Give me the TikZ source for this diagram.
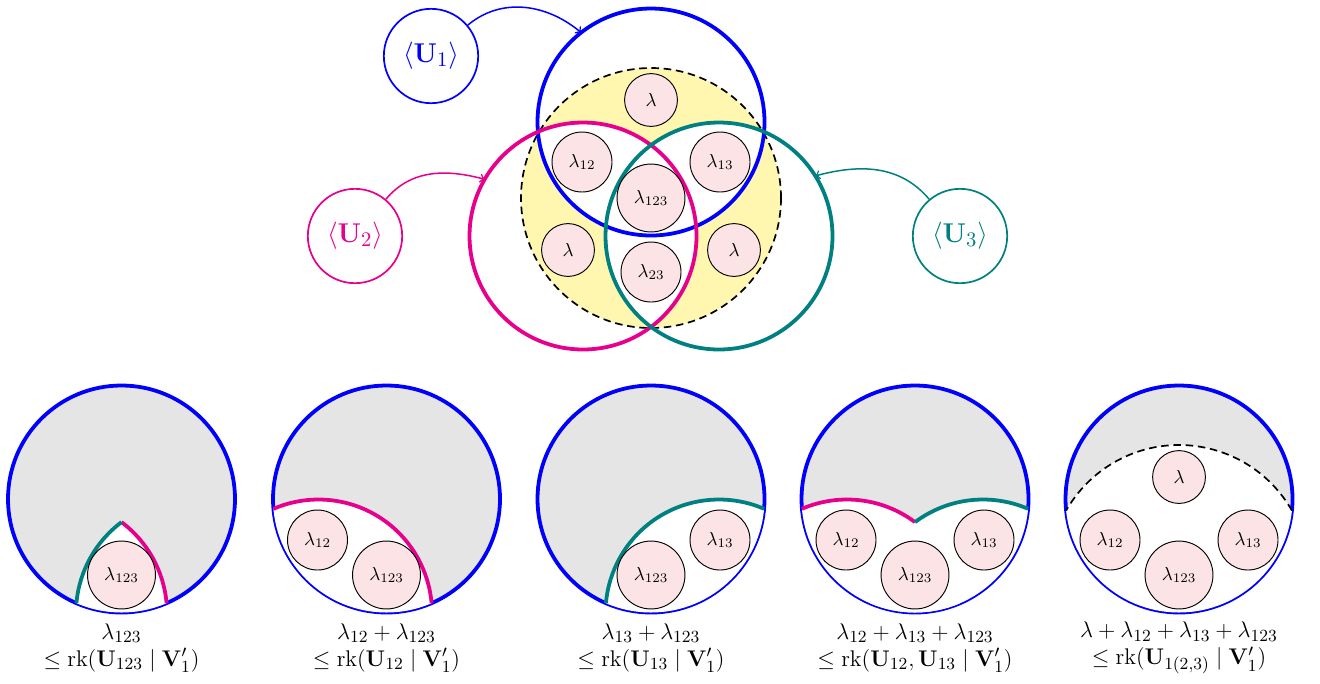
\documentclass[tikz,border=0pt]{standalone}
\usepackage{amsmath,amssymb}
\definecolor{magc}{HTML}{E6008C}
\definecolor{tealc}{RGB}{0,128,128}
\definecolor{bluec}{RGB}{0,0,255}
\definecolor{pinkc}{RGB}{252,228,230}
\definecolor{yellowc}{RGB}{255,247,175}
\definecolor{greyc}{RGB}{229,229,229}
\tikzset{
  lam/.style={circle, draw=black, line width=0.5pt, fill=pinkc, inner sep=0pt, minimum size=28pt, font=\fontsize{10.4}{12}\selectfont},
  lamtwo/.style={lam, minimum size=31.8pt},
  lamthree/.style={lam, minimum size=36pt},
  setc/.style={line width=2pt},
  unode/.style={circle, draw, line width=0.9pt, inner sep=0pt, minimum size=50pt, font=\fontsize{15.2}{18}\selectfont},
  conn/.style={->, line width=0.8pt},
  dashc/.style={line width=0.9pt, dash pattern=on 4pt off 2.5pt},
  lbl/.style={align=center, font=\fontsize{12.8}{14.3}\selectfont},
}
\def\R{113.5}
\begin{document}
\begin{tikzpicture}[x=0.53pt, y=0.53pt]
\useasboundingbox (0,0) rectangle (1320,-683);

% ---------------- Venn diagram ----------------
\begin{scope}[shift={(651,-122)}]
  \fill[yellowc] (0,-76) circle[radius=130];
  \begin{scope}
    \clip (0,0) circle[radius=\R];
    \fill[white] (-68,-114) circle[radius=\R];
    \fill[white] (68,-114) circle[radius=\R];
  \end{scope}
  \begin{scope}
    \clip (-68,-114) circle[radius=\R];
    \fill[white] (68,-114) circle[radius=\R];
  \end{scope}
  \draw[dashc] (0,-76) circle[radius=130];
  \draw[setc, bluec] (0,0) circle[radius=\R];
  \draw[setc, magc] (-68,-114) circle[radius=\R];
  \draw[setc, tealc] (68,-114) circle[radius=\R];
  \node[lam] (vl) at (0,22) {$\lambda$};
  \node[lamtwo] (vl12) at (-69,-40) {$\lambda_{12}$};
  \node[lamtwo] (vl13) at (69,-40) {$\lambda_{13}$};
  \node[lamthree] (vl123) at (0,-76) {$\lambda_{123}$};
  \node[lam] (vll) at (-83,-128) {$\lambda$};
  \node[lam] (vlr) at (83,-128) {$\lambda$};
  \node[lamtwo] (vl23) at (0,-150) {$\lambda_{23}$};
\end{scope}

\node[unode, bluec] (U1) at (431,-56) {$\langle \mathbf{U}_1\rangle$};
\node[unode, magc] (U2) at (355,-236) {$\langle \mathbf{U}_2\rangle$};
\node[unode, tealc] (U3) at (960,-236) {$\langle \mathbf{U}_3\rangle$};
\coordinate (b1) at (581.1,-32.6);
\coordinate (m1) at (484.7,-179.3);
\coordinate (t1) at (815.3,-175.9);
\draw[conn, bluec] (U1) to[out=40, in=140] (b1);
\draw[conn, magc] (U2) to[out=50, in=165] (m1);
\draw[conn, tealc] (U3) to[out=130, in=15] (t1);

% ---------------- Panel 1 ----------------
\begin{scope}[shift={(121.5,-499)}]
  \fill[greyc] (0,0) circle[radius=\R];
  \draw[setc, bluec] (0,0) circle[radius=\R];
  \begin{scope}
    \clip (0,0) circle[radius=\R];
    \clip (-68,-114) circle[radius=\R];
    \fill[white] (68,-114) circle[radius=\R];
  \end{scope}
  \draw[setc, magc] (-68,-114) ++(53.2:\R) arc[start angle=53.2, end angle=5.0, radius=\R];
  \draw[setc, tealc] (68,-114) ++(126.8:\R) arc[start angle=126.8, end angle=175.0, radius=\R];
  \node[lamthree] (p1a) at (0,-76) {$\lambda_{123}$};
  \node[lbl] (p1t) at (0,-149) {$\lambda_{123}$\\$\leq \mathrm{rk}(\mathbf{U}_{123}\mid \mathbf{V}'_1)$};
\end{scope}

% ---------------- Panel 2 ----------------
\begin{scope}[shift={(386.5,-499)}]
  \fill[greyc] (0,0) circle[radius=\R];
  \draw[setc, bluec] (0,0) circle[radius=\R];
  \begin{scope}
    \clip (0,0) circle[radius=\R];
    \fill[white] (-68,-114) circle[radius=\R];
  \end{scope}
  \draw[setc, magc] (-68,-114) ++(113.4:\R) arc[start angle=113.4, end angle=5.0, radius=\R];
  \node[lamtwo] (p2a) at (-69,-41) {$\lambda_{12}$};
  \node[lamthree] (p2b) at (0,-76) {$\lambda_{123}$};
  \node[lbl] (p2t) at (0,-149) {$\lambda_{12}+\lambda_{123}$\\$\leq \mathrm{rk}(\mathbf{U}_{12}\mid \mathbf{V}'_1)$};
\end{scope}

% ---------------- Panel 3 ----------------
\begin{scope}[shift={(651,-499)}]
  \fill[greyc] (0,0) circle[radius=\R];
  \draw[setc, bluec] (0,0) circle[radius=\R];
  \begin{scope}
    \clip (0,0) circle[radius=\R];
    \fill[white] (68,-114) circle[radius=\R];
  \end{scope}
  \draw[setc, tealc] (68,-114) ++(66.6:\R) arc[start angle=66.6, end angle=175.0, radius=\R];
  \node[lamtwo] (p3a) at (69,-41) {$\lambda_{13}$};
  \node[lamthree] (p3b) at (0,-76) {$\lambda_{123}$};
  \node[lbl] (p3t) at (0,-149) {$\lambda_{13}+\lambda_{123}$\\$\leq \mathrm{rk}(\mathbf{U}_{13}\mid \mathbf{V}'_1)$};
\end{scope}

% ---------------- Panel 4 ----------------
\begin{scope}[shift={(915,-499)}]
  \fill[greyc] (0,0) circle[radius=\R];
  \draw[setc, bluec] (0,0) circle[radius=\R];
  \begin{scope}
    \clip (0,0) circle[radius=\R];
    \fill[white] (-68,-114) circle[radius=\R];
    \fill[white] (68,-114) circle[radius=\R];
  \end{scope}
  \draw[setc, magc] (-68,-114) ++(113.4:\R) arc[start angle=113.4, end angle=53.2, radius=\R];
  \draw[setc, tealc] (68,-114) ++(66.6:\R) arc[start angle=66.6, end angle=126.8, radius=\R];
  \node[lamtwo] (p4a) at (-69,-41) {$\lambda_{12}$};
  \node[lamtwo] (p4b) at (69,-41) {$\lambda_{13}$};
  \node[lamthree] (p4c) at (0,-76) {$\lambda_{123}$};
  \node[lbl] (p4t) at (0,-149) {$\lambda_{12}+\lambda_{13}+\lambda_{123}$\\$\leq \mathrm{rk}(\mathbf{U}_{12},\mathbf{U}_{13}\mid \mathbf{V}'_1)$};
\end{scope}

% ---------------- Panel 5 ----------------
\begin{scope}[shift={(1179,-499)}]
  \fill[greyc] (0,0) circle[radius=\R];
  \draw[setc, bluec] (0,0) circle[radius=\R];
  \begin{scope}
    \clip (0,0) circle[radius=\R];
    \fill[white] (0,-76) circle[radius=130];
  \end{scope}
  \draw[dashc] (0,-76) ++(29.7:130) arc[start angle=29.7, end angle=150.3, radius=130];
  \node[lam] (p5a) at (0,22) {$\lambda$};
  \node[lamtwo] (p5b) at (-69,-41) {$\lambda_{12}$};
  \node[lamtwo] (p5c) at (69,-41) {$\lambda_{13}$};
  \node[lamthree] (p5d) at (0,-76) {$\lambda_{123}$};
  \node[lbl] (p5t) at (0,-149) {$\lambda+\lambda_{12}+\lambda_{13}+\lambda_{123}$\\$\leq \mathrm{rk}(\mathbf{U}_{1(2,3)}\mid \mathbf{V}'_1)$};
\end{scope}
\end{tikzpicture}
\end{document}
